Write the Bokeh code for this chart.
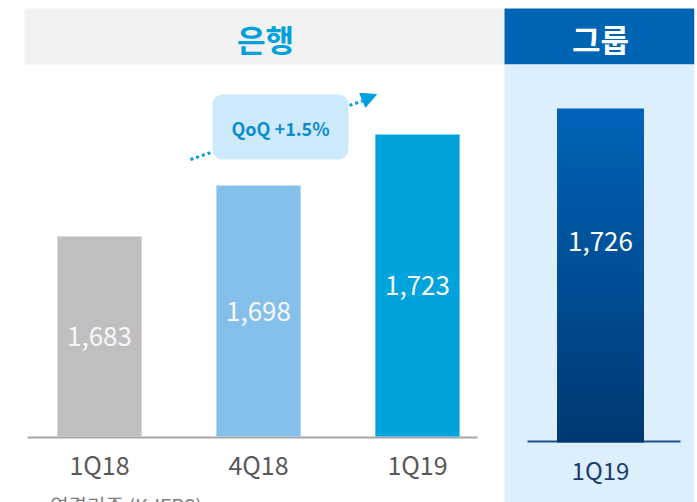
from bokeh.plotting import figure
from bokeh.models import (FactorRange, Range1d, ColumnDataSource, BoxAnnotation, Label, Arrow,
                          NormalHead, LinearScale)
from bokeh.core.properties import value
from bokeh.embed import file_html
from bokeh.resources import INLINE

# ---- data ----
bank_label = "은행"
group_label = "그룹"
bank_quarters = ["1Q18", "4Q18", "1Q19"]
bank_values = [1683, 1698, 1723]
bank_bar_heights = [200, 251, 302]      # drawn heights (chart not to scale)
group_quarters = ["1Q19"]
group_values = [1726]
group_bar_heights = [328]
qoq_text = "QoQ +1.5%"
footnote = "· 연결기준 (K-IFRS)"
bank_colors = ["#c0bec0", "#85c0eb", "#00a3dc"]

FONT_NAME = "Noto Sans CJK KR"
FONT = value(FONT_NAME)

bank_factors = [(bank_label, q) for q in bank_quarters]
group_factors = [(group_label, q) for q in group_quarters]

# layout of the categorical axis
W, H = 697, 502
BORDER_L, BORDER_R = 5, 3
GPAD = 0.151
PAD = 0.0912
n_fac = len(bank_factors) + len(group_factors)
span = n_fac + GPAD
rp = 2 * PAD / span
x_range = FactorRange(*bank_factors, *group_factors, group_padding=GPAD,
                      range_padding=rp, range_padding_units="percent")
FRAME_W = W - BORDER_L - BORDER_R
unit = FRAME_W / (span + 2 * PAD)


def sx(px):
    """page pixel x -> synthetic categorical coordinate (for decorations)"""
    return -PAD + (px - BORDER_L) / unit


p = figure(width=W, height=H, x_range=x_range, y_range=Range1d(-66, 436),
           output_backend="svg", toolbar_location=None,
           x_axis_location=None, y_axis_location=None,
           min_border_left=BORDER_L, min_border_right=BORDER_R, min_border_top=0, min_border_bottom=0,
           outline_line_color=None, background_fill_color="white", border_fill_color="white")
p.grid.visible = False
p.extra_y_ranges = {"py": Range1d(502, 0)}
p.extra_y_scales = {"py": LinearScale()}
deco = dict(y_range_name="py")

# ---- background panels ----
p.quad(left=sx(24), right=sx(504), top=8, bottom=64, fill_color="#f2f2f2", line_color=None, **deco)
p.quad(left=sx(504), right=sx(694), top=8, bottom=64, fill_color="#0064b4", line_color=None, **deco)
p.quad(left=sx(504), right=sx(694), top=64, bottom=502, fill_color="#ddeefc", line_color=None, **deco)
p.text(x=[sx(265)], y=[37.5], text=[bank_label], text_font=FONT, text_font_size="31px",
       text_font_style="bold", text_color="#00a0dc", text_align="center", text_baseline="middle", **deco)
p.text(x=[sx(600)], y=[37.5], text=[group_label], text_font=FONT, text_font_size="31px",
       text_font_style="bold", text_color="white", text_align="center", text_baseline="middle", **deco)

# ---- baselines ----
p.segment(x0=[sx(27)], x1=[sx(477)], y0=[437], y1=[437], line_color="#a6a6a6", line_width=2, **deco)
p.segment(x0=[sx(527)], x1=[sx(680)], y0=[441], y1=[441], line_color="#1f4e8c", line_width=2, **deco)

# ---- bank bars ----
bank_src = ColumnDataSource(dict(x=bank_factors, top=bank_bar_heights, color=bank_colors,
                                 lab=[f"{v:,}" for v in bank_values],
                                 ly=[h / 2 for h in bank_bar_heights]))
p.vbar(x="x", top="top", bottom=0, width=0.53, fill_color="color", line_color=None, source=bank_src)
p.text(x="x", y="ly", text="lab", source=bank_src, text_font=FONT, text_font_size="26px",
       text_color="#f8f8f8", text_align="center", text_baseline="middle")
p.text(x=bank_factors, y=[-27] * len(bank_factors), text=bank_quarters, text_font=FONT,
       text_font_size="25px", text_color="#595959", text_align="center", text_baseline="middle")

# ---- group bar (vertical gradient) ----
g_bottom = -6
n = 40
top_rgb = (0, 99, 184)
bot_rgb = (0, 57, 114)
xs, bs, ts, cs = [], [], [], []
for gf, h in zip(group_factors, group_bar_heights):
    for i in range(n):
        f = i / (n - 1)
        b = g_bottom + (h - g_bottom) * i / n
        t = g_bottom + (h - g_bottom) * (i + 1) / n + 3
        r = [round(bot_rgb[k] + (top_rgb[k] - bot_rgb[k]) * f) for k in range(3)]
        xs.append(gf); bs.append(b); ts.append(min(t, h)); cs.append("#%02x%02x%02x" % tuple(r))
p.vbar(x=xs, bottom=bs, top=ts, width=0.547, fill_color=cs, line_color=None)
grp_src = ColumnDataSource(dict(x=group_factors, ly=[h * 0.593 for h in group_bar_heights],
                                lab=[f"{v:,}" for v in group_values]))
p.text(x="x", y="ly", text="lab", source=grp_src, text_font=FONT, text_font_size="26px",
       text_color="white", text_align="center", text_baseline="middle")
p.text(x=group_factors, y=[-33], text=group_quarters, text_font=FONT, text_font_size="24px",
       text_color="#1c3d70", text_align="center", text_baseline="middle")

# ---- QoQ callout ----
p.line(x=[sx(190), sx(362)], y=[159, 100.5], line_color="#00a0e0", line_width=3, line_dash="3 3", **deco)
p.add_layout(Arrow(x_start=sx(358), y_start=101.5, x_end=sx(376), y_end=94, line_alpha=0,
                   end=NormalHead(size=15, fill_color="#00a0e0", line_color="#00a0e0"), **deco))
p.add_layout(BoxAnnotation(left=sx(212), right=sx(348), top=94, bottom=159, fill_color="#cdeafc",
                           fill_alpha=1, line_color=None, border_radius=10, **deco))
p.add_layout(Label(x=sx(280), y=127, text=qoq_text, text_font=FONT_NAME, text_font_size="18px",
                   text_font_style="bold", text_color="#0a8ccd", text_align="center",
                   text_baseline="middle", **deco))

# ---- footnote ----
p.text(x=[sx(34)], y=[490], text=[footnote], text_font=FONT, text_font_size="20px",
       text_color="#808080", text_align="left", text_baseline="top", **deco)

open("out.html", "w").write(file_html(p, INLINE))
